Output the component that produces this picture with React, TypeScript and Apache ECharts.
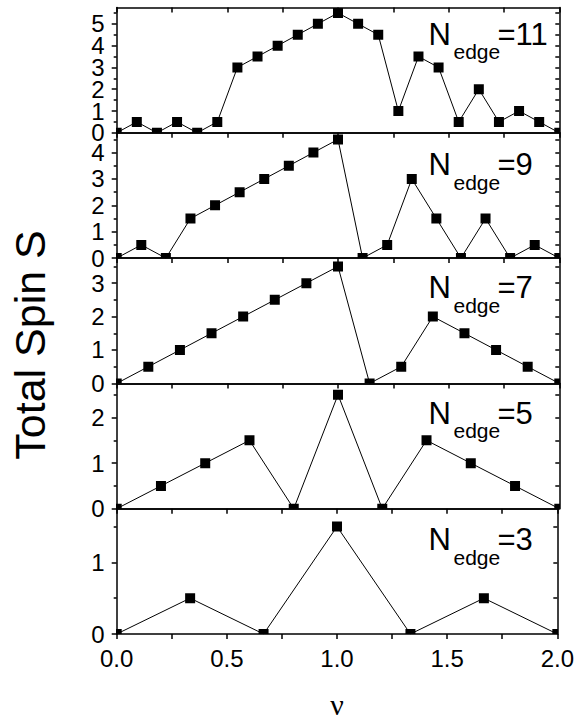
import React, { useEffect, useRef } from "react";
import * as echarts from "echarts";

// ---------- data ----------
const edgeCounts = [11, 9, 7, 5, 3];

const nuN11 = [0, 1 / 11, 2 / 11, 3 / 11, 4 / 11, 5 / 11, 6 / 11, 7 / 11, 8 / 11, 9 / 11, 10 / 11, 1, 12 / 11, 13 / 11, 14 / 11, 15 / 11, 16 / 11, 17 / 11, 18 / 11, 19 / 11, 20 / 11, 21 / 11, 2];
const spinN11 = [0, 0.5, 0, 0.5, 0, 0.5, 3, 3.5, 4, 4.5, 5, 5.5, 5, 4.5, 1, 3.5, 3, 0.5, 2, 0.5, 1, 0.5, 0];

const nuN9 = [0, 1 / 9, 2 / 9, 3 / 9, 4 / 9, 5 / 9, 6 / 9, 7 / 9, 8 / 9, 1, 10 / 9, 11 / 9, 12 / 9, 13 / 9, 14 / 9, 15 / 9, 16 / 9, 17 / 9, 2];
const spinN9 = [0, 0.5, 0, 1.5, 2, 2.5, 3, 3.5, 4, 4.5, 0, 0.5, 3, 1.5, 0, 1.5, 0, 0.5, 0];

const nuN7 = [0, 1 / 7, 2 / 7, 3 / 7, 4 / 7, 5 / 7, 6 / 7, 1, 8 / 7, 9 / 7, 10 / 7, 11 / 7, 12 / 7, 13 / 7, 2];
const spinN7 = [0, 0.5, 1, 1.5, 2, 2.5, 3, 3.5, 0, 0.5, 2, 1.5, 1, 0.5, 0];

const nuN5 = [0, 0.2, 0.4, 0.6, 0.8, 1, 1.2, 1.4, 1.6, 1.8, 2];
const spinN5 = [0, 0.5, 1, 1.5, 0, 2.5, 0, 1.5, 1, 0.5, 0];

const nuN3 = [0, 1 / 3, 2 / 3, 1, 4 / 3, 5 / 3, 2];
const spinN3 = [0, 0.5, 0, 1.5, 0, 0.5, 0];

const nuTickLabels = [0, 0.5, 1, 1.5, 2];
const yTickLabels = [
  [0, 1, 2, 3, 4, 5],
  [0, 1, 2, 3, 4],
  [0, 1, 2, 3],
  [0, 1, 2],
  [0, 1],
];
const yMaxes = [5.75, 4.75, 3.75, 2.75, 1.75];

const nuSets = [nuN11, nuN9, nuN7, nuN5, nuN3];
const spinSets = [spinN11, spinN9, spinN7, spinN5, spinN3];

// ---------- layout ----------
const LEFT = 116.7;
const RIGHT = 17.7;
const TOP0 = 7.5;
const PH = 125.3;
const FONT = '"Liberation Sans", Arial, Helvetica, sans-serif';
const SERIF = '"Liberation Serif", "Times New Roman", serif';
const labelBaselines = [45, 175.7, 298.3, 424, 550.7];
const AX = { color: "#000", width: 1.5 };

const yLabelStyle = {
  show: true,
  fontSize: 24,
  lineHeight: 18,
  fontFamily: FONT,
  color: "#000",
  margin: 12,
  showMinLabel: true,
  showMaxLabel: true,
  hideOverlap: false,
};

function buildOption() {
  const n = edgeCounts.length;
  const grid: any[] = [];
  const xAxis: any[] = [];
  const yAxis: any[] = [];
  const series: any[] = [];
  const graphic: any[] = [];

  for (let i = 0; i < n; i++) {
    const last = i === n - 1;
    grid.push({ left: LEFT, right: RIGHT, top: TOP0 + i * PH, height: PH });

    xAxis.push({
      gridIndex: i,
      type: "value",
      min: 0,
      max: 2,
      interval: 0.25,
      position: "bottom",
      axisLine: { show: true, onZero: false, lineStyle: AX },
      axisTick: { show: last, inside: false, length: 5, lineStyle: AX },
      axisLabel: {
        show: last,
        customValues: nuTickLabels,
        formatter: (v: number) => v.toFixed(1),
        fontSize: 24,
        lineHeight: 22,
        fontFamily: FONT,
        color: "#000",
        margin: 13,
        showMinLabel: true,
        showMaxLabel: true,
        hideOverlap: false,
      },
      splitLine: { show: false },
    });
    xAxis.push({
      gridIndex: i,
      type: "value",
      min: 0,
      max: 2,
      interval: 0.25,
      position: "top",
      axisLine: { show: true, onZero: false, lineStyle: AX },
      axisTick: { show: true, inside: true, length: 5, lineStyle: AX },
      axisLabel: { show: false },
      splitLine: { show: false },
    });

    const ints = yTickLabels[i];
    const evens = ints.filter((t) => t % 2 === 0);
    const odds = ints.filter((t) => t % 2 === 1);
    const max = yMaxes[i];
    const halvesOdd: number[] = [];
    ints.forEach((t) => {
      if (t + 0.5 < max) halvesOdd.push(t + 0.5);
    });
    const allHalves = [...ints.filter((t) => t > 0), ...halvesOdd].sort((a, b) => a - b);

    // main left axis: frame line, major ticks, even labels
    yAxis.push({
      gridIndex: i,
      type: "value",
      min: 0,
      max,
      position: "left",
      axisLine: { show: true, onZero: false, lineStyle: AX },
      axisTick: { show: true, inside: false, length: 5, customValues: ints, lineStyle: AX },
      axisLabel: { ...yLabelStyle, customValues: evens },
      splitLine: { show: false },
    });
    // second left axis: minor ticks, odd labels
    yAxis.push({
      gridIndex: i,
      type: "value",
      min: 0,
      max,
      position: "left",
      axisLine: { show: false, onZero: false },
      axisTick: { show: true, inside: false, length: 3, customValues: halvesOdd, lineStyle: AX },
      axisLabel: odds.length ? { ...yLabelStyle, customValues: odds } : { show: false },
      splitLine: { show: false },
    });
    // right mirror axis
    yAxis.push({
      gridIndex: i,
      type: "value",
      min: 0,
      max,
      position: "right",
      axisLine: { show: true, onZero: false, lineStyle: AX },
      axisTick: { show: true, inside: true, length: 4, customValues: allHalves, lineStyle: AX },
      axisLabel: { show: false },
      splitLine: { show: false },
    });

    const pts = nuSets[i].map((x, k) => [x, spinSets[i][k]]);
    series.push({
      type: "line",
      xAxisIndex: 2 * i,
      yAxisIndex: 3 * i,
      data: pts,
      symbol: "none",
      clip: true,
      lineStyle: { color: "#000", width: 1 },
      z: 2,
    });
    series.push({
      type: "custom",
      xAxisIndex: 2 * i,
      yAxisIndex: 3 * i,
      data: pts,
      clip: true,
      encode: { x: 0, y: 1 },
      z: 3,
      renderItem: (_p: any, api: any) => {
        const c = api.coord([api.value(0), api.value(1)]);
        return {
          type: "rect",
          shape: { x: c[0] - 5, y: c[1] - 5, width: 10, height: 10 },
          style: { fill: "#000" },
        };
      },
    });

    const b = labelBaselines[i];
    graphic.push({
      type: "text",
      x: 428.5,
      y: b - 0.3465 * 31,
      style: { text: "N", fontSize: 31, lineHeight: 26, fontFamily: FONT, fill: "#000", align: "left", verticalAlign: "middle" },
    });
    graphic.push({
      type: "text",
      x: 453.5,
      y: b + 14 - 0.3465 * 21,
      style: { text: "edge", fontSize: 21, lineHeight: 16, fontFamily: FONT, fill: "#000", align: "left", verticalAlign: "middle" },
    });
    graphic.push({
      type: "text",
      x: 497.5,
      y: b - 0.3465 * 31,
      style: { text: "=" + edgeCounts[i], fontSize: 31, lineHeight: 26, fontFamily: FONT, fill: "#000", align: "left", verticalAlign: "middle" },
    });
  }

  graphic.push({
    type: "text",
    x: 30.1,
    y: 345,
    rotation: Math.PI / 2,
    style: { text: "Total Spin S", fontSize: 43, fontFamily: FONT, fill: "#000", align: "center", verticalAlign: "middle" },
  });
  graphic.push({
    type: "text",
    x: 337,
    y: 704,
    style: { text: "ν", fontSize: 30, lineHeight: 20, fontFamily: SERIF, fill: "#000", align: "center", verticalAlign: "middle" },
  });

  return {
    animation: false,
    backgroundColor: "#fff",
    grid,
    xAxis,
    yAxis,
    series,
    graphic,
  };
}

export default function App() {
  const ref = useRef<HTMLDivElement>(null);
  useEffect(() => {
    const chart = echarts.init(ref.current!, null, { renderer: "svg" });
    chart.setOption(buildOption() as any);
    return () => chart.dispose();
  }, []);
  return (
    <div
      ref={ref}
      style={{ position: "fixed", left: 0, top: 0, width: 577, height: 719, background: "#fff" }}
    />
  );
}
